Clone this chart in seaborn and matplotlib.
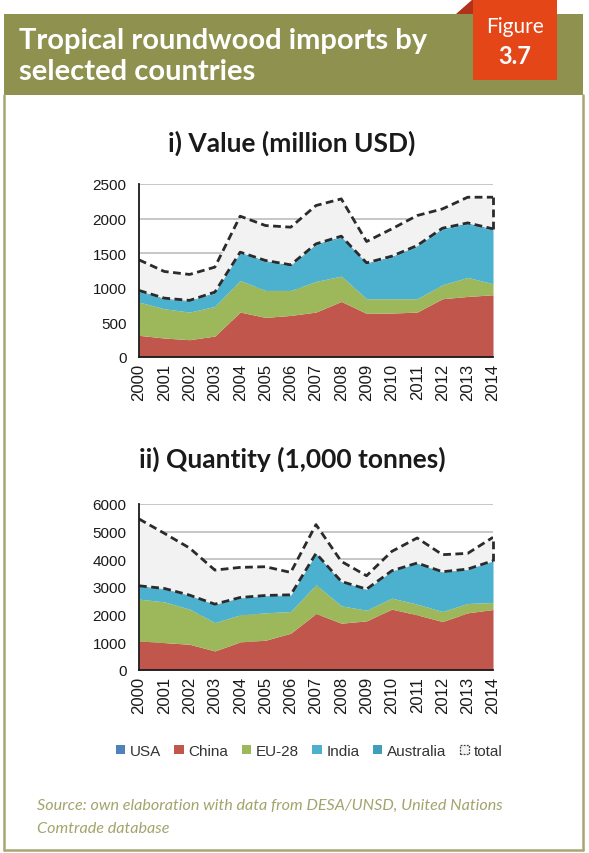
import matplotlib
matplotlib.use("Agg")
import matplotlib.pyplot as plt
import matplotlib.patches as mpatches
from matplotlib.lines import Line2D
import numpy as np
import seaborn as sns

# ---------------- data ----------------
years = list(range(2000, 2015))
series_names = ["USA", "China", "EU-28", "India", "Australia", "total"]

# i) Value (million USD)
usa_val = [8, 7, 6, 6, 7, 6, 6, 7, 6, 5, 5, 5, 5, 5, 5]
china_val = [305, 267, 244, 297, 642, 566, 595, 642, 797, 625, 630, 644, 837, 870, 894]
eu_val = [481, 423, 399, 428, 457, 390, 361, 443, 366, 212, 207, 193, 202, 275, 159]
india_val = [153, 140, 156, 192, 391, 416, 354, 525, 560, 504, 599, 752, 799, 770, 777]
aus_val = [15, 14, 13, 15, 18, 17, 16, 18, 17, 15, 16, 17, 18, 18, 17]
total_val = [1404, 1236, 1193, 1299, 2035, 1900, 1876, 2189, 2285, 1669, 1852, 2044, 2140, 2309, 2309]

# ii) Quantity (1,000 tonnes)
usa_q = [15, 14, 12, 10, 10, 10, 10, 12, 10, 9, 9, 9, 8, 8, 8]
china_q = [1036, 976, 918, 679, 1005, 1065, 1319, 2030, 1681, 1767, 2190, 1984, 1744, 2058, 2178]
eu_q = [1510, 1474, 1269, 1026, 978, 991, 785, 1038, 628, 386, 398, 387, 362, 338, 254]
india_q = [453, 456, 482, 645, 606, 606, 582, 1111, 862, 743, 971, 1464, 1418, 1224, 1490]
aus_q = [30, 28, 25, 20, 22, 22, 22, 25, 20, 18, 20, 22, 20, 20, 20]
total_q = [5460, 4941, 4409, 3612, 3709, 3733, 3527, 5255, 3926, 3407, 4288, 4772, 4168, 4216, 4796]

val_ticks = [0, 500, 1000, 1500, 2000, 2500]
q_ticks = [0, 1000, 2000, 3000, 4000, 5000, 6000]

colors = {"USA": "#4f81bd", "China": "#c0564c", "EU-28": "#9db85a",
          "India": "#4cb0cf", "Australia": "#3f9fba", "total": "#f2f2f2"}

# ---------------- style ----------------
sns.set_style("white")
plt.rcParams["font.family"] = ["Liberation Sans", "DejaVu Sans"]

W, H = 589, 854
fig = plt.figure(figsize=(W / 100, H / 100), dpi=100)
fig.patch.set_facecolor("white")


def px_axes(x0, y0, x1, y1):
    return fig.add_axes([x0 / W, 1 - y1 / H, (x1 - x0) / W, (y1 - y0) / H])


def draw_panel(ax, layers, total, ticks):
    yrs = np.array(years, dtype=float)
    base = np.zeros(len(years))
    for name, vals in layers:
        top = base + np.array(vals, dtype=float)
        ax.fill_between(yrs, base, top, color=colors[name], lw=0, zorder=2)
        base = top
    tot = np.array(total, dtype=float)
    ax.fill_between(yrs, base, tot, color=colors["total"], lw=0, zorder=2)
    dash = (0, (2.8, 1.6))
    sns.lineplot(x=yrs, y=base, ax=ax, color="#2b2b2b", lw=2.0, linestyle=dash, zorder=4)
    sns.lineplot(x=yrs, y=tot, ax=ax, color="#2b2b2b", lw=2.0, linestyle=dash, zorder=4)
    ax.plot([yrs[-1], yrs[-1]], [base[-1], tot[-1]], color="#2b2b2b", lw=2.0,
            linestyle=dash, zorder=4, clip_on=False)
    ax.set_xlim(years[0], years[-1])
    ax.set_ylim(ticks[0], ticks[-1])
    ax.set_yticks(ticks)
    ax.set_yticklabels([str(t) for t in ticks], fontsize=11)
    ax.set_xticks(years)
    ax.set_xticklabels([str(y) for y in years], rotation=90, fontsize=12)
    ax.yaxis.grid(True, color="#bdbdbd", lw=1.2, zorder=0)
    ax.set_axisbelow(True)
    for s in ["top", "right"]:
        ax.spines[s].set_visible(False)
    for s in ["left", "bottom"]:
        ax.spines[s].set_color("#1a1a1a")
        ax.spines[s].set_linewidth(1.3)
        ax.spines[s].set_zorder(5)
    ax.tick_params(axis="both", direction="inout", length=5, width=1.2, color="#1a1a1a",
                   pad=2, labelcolor="#1a1a1a")
    ax.tick_params(axis="y", direction="out", length=4, pad=5)
    ax.set_xlabel("")
    ax.set_ylabel("")
    ax.set_facecolor("white")


ax1 = px_axes(139, 185, 493, 358)
draw_panel(ax1, [("USA", usa_val), ("China", china_val), ("EU-28", eu_val),
                 ("India", india_val), ("Australia", aus_val)], total_val, val_ticks)

ax2 = px_axes(139, 505, 493, 671)
draw_panel(ax2, [("USA", usa_q), ("China", china_q), ("EU-28", eu_q),
                 ("India", india_q), ("Australia", aus_q)], total_q, q_ticks)

# ---------------- frame & header ----------------
olive = "#8f914f"
border = "#a6a872"
fig.add_artist(mpatches.Rectangle((4 / W, 1 - 96 / H), (583 - 4) / W, (96 - 15) / H,
                                  transform=fig.transFigure, color=olive, lw=0, zorder=1))
for (xa, ya, xb, yb) in [(4, 96, 4, 851), (583, 96, 583, 851), (4, 851, 583, 851)]:
    fig.add_artist(Line2D([xa / W, xb / W], [1 - ya / H, 1 - yb / H],
                          transform=fig.transFigure, color=border, lw=1.8, zorder=1))

# red Figure tab
fig.add_artist(mpatches.Polygon([(456 / W, 1 - 15 / H), (473 / W, 1 - 0 / H), (473 / W, 1 - 15 / H)],
                                closed=True, transform=fig.transFigure, color="#b0321a", lw=0, zorder=2))
fig.add_artist(mpatches.Rectangle((473 / W, 1 - 81 / H), (557 - 473) / W, 81 / H,
                                  transform=fig.transFigure, color="#e54618", lw=0, zorder=2))
fig.text(515 / W, 1 - 27 / H, "Figure", color="white", fontsize=15, ha="center", va="center",
         family=["Lato", "DejaVu Sans"], zorder=3)
fig.text(515 / W, 1 - 57 / H, "3.7", color="white", fontsize=17, ha="center", va="center",
         family=["Lato", "DejaVu Sans"], fontweight="bold", zorder=3)

fig.text(19 / W, 1 - 41 / H, "Tropical roundwood imports by", color="white", fontsize=21,
         ha="left", va="center", fontweight="bold", family=["Lato", "DejaVu Sans"], zorder=3)
fig.text(19 / W, 1 - 72 / H, "selected countries", color="white", fontsize=21,
         ha="left", va="center", fontweight="bold", family=["Lato", "DejaVu Sans"], zorder=3)

# panel titles
fig.text(292 / W, 1 - 143 / H, "i) Value (million USD)", fontsize=19, fontweight="bold",
         ha="center", va="center", color="#1a1a1a", family=["Lato", "DejaVu Sans"])
fig.text(292 / W, 1 - 459 / H, "ii) Quantity (1,000 tonnes)", fontsize=19, fontweight="bold",
         ha="center", va="center", color="#1a1a1a", family=["Lato", "DejaVu Sans"])

# legend
handles = []
for name in series_names[:-1]:
    handles.append(mpatches.Patch(facecolor=colors[name], edgecolor="none", label=name))
handles.append(mpatches.Patch(facecolor="#f2f2f2", edgecolor="#444444", linestyle=(0, (1.5, 1)),
                              lw=0.9, label="total"))
fig.legend(handles=handles, loc="center", bbox_to_anchor=(309 / W, 1 - 752 / H), ncol=6,
           frameon=False, fontsize=11, handlelength=0.6, handleheight=0.6, handletextpad=0.3,
           columnspacing=0.9, labelcolor="#333333")

# source
src_col = "#a3a46c"
fig.text(37 / W, 1 - 806 / H, "Source: own elaboration with data from DESA/UNSD, United Nations",
         fontsize=11.6, style="italic", color=src_col, ha="left", va="center",
         family=["Lato", "DejaVu Sans"])
fig.text(37 / W, 1 - 829 / H, "Comtrade database", fontsize=11.6, style="italic", color=src_col,
         ha="left", va="center", family=["Lato", "DejaVu Sans"])

fig.savefig("out.png", dpi=100, facecolor="white")
